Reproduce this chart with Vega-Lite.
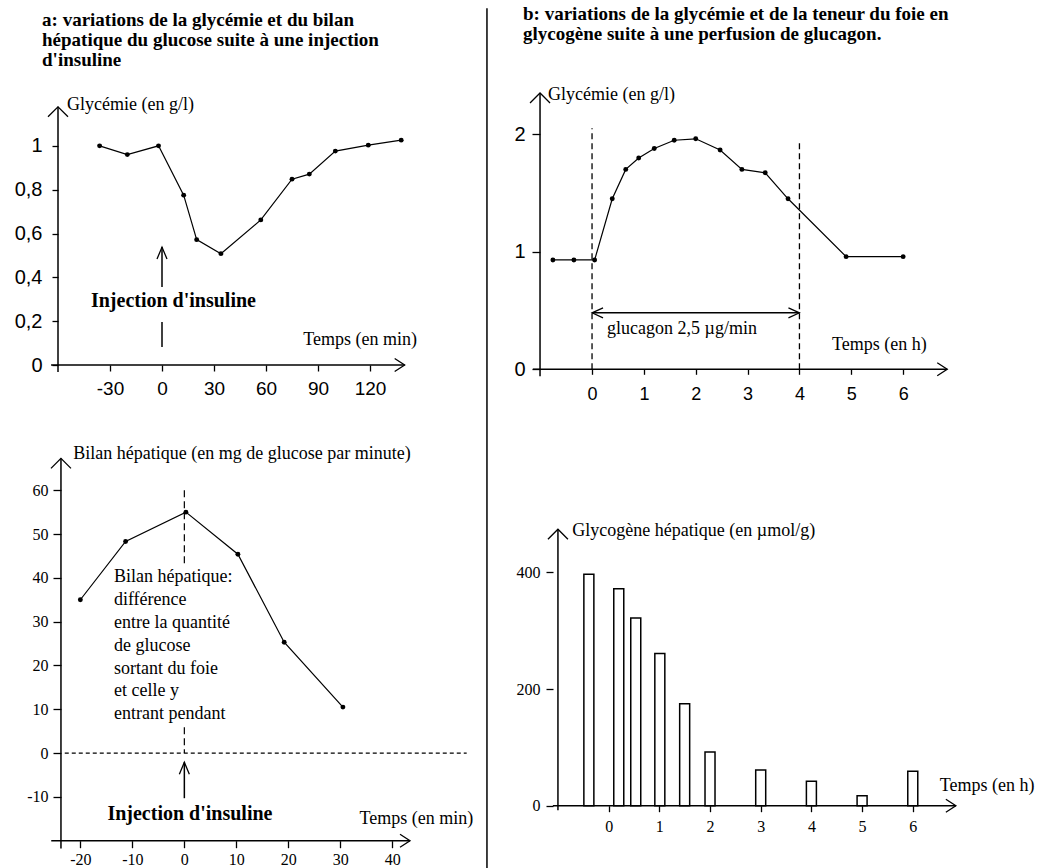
{
"$schema": "https://vega.github.io/schema/vega-lite/v6.json",
"autosize": {"type": "none"},
"padding": {"left": 58, "top": 102, "right": 991, "bottom": 766},
"background": "white",
"columns": 2,
"bounds": "flush",
"align": "each",
"spacing": {"row": 90, "column": 60},
"config": {
  "view": {"stroke": null},
  "axis": {"domain": false, "grid": false, "ticks": true, "tickColor": "black", "tickWidth": 1.3, "labelColor": "black", "labelFlush": false, "labelOverlap": false},
  "text": {"font": "Liberation Serif", "fontSize": 18, "color": "black"}
},
"concat": [
{
  "width": 364, "height": 263,
  "data": {"values": [
    {"kind":"obs","t":-36,"v":1.0},
    {"kind":"obs","t":-20,"v":0.96},
    {"kind":"obs","t":-2,"v":1.0},
    {"kind":"obs","t":12.5,"v":0.775},
    {"kind":"obs","t":20,"v":0.572},
    {"kind":"obs","t":34,"v":0.508},
    {"kind":"obs","t":57,"v":0.662},
    {"kind":"obs","t":75,"v":0.848},
    {"kind":"obs","t":85,"v":0.871},
    {"kind":"obs","t":100,"v":0.976},
    {"kind":"obs","t":119,"v":1.003},
    {"kind":"obs","t":138,"v":1.026},
    {"kind":"seg","t":-64,"v":0,"t2":140,"v2":0},
    {"kind":"seg","t":-60,"v":-0.032,"t2":-60,"v2":1.178},
    {"kind":"seg","t":0,"v":0.356,"t2":0,"v2":0.538},
    {"kind":"seg","t":0,"v":0.082,"t2":0,"v2":0.196},
    {"kind":"headR","t":140,"v":0},
    {"kind":"headU","t":-60,"v":1.178},
    {"kind":"headUs","t":0,"v":0.538},
    {"kind":"text","t":-54.8,"v":1.163,"label":"Glycémie (en g/l)"},
    {"kind":"textR","t":147.1,"v":0.091,"label":"Temps (en min)"},
    {"kind":"bold","t":-41,"v":0.266,"label":"Injection d'insuline"},
    {"kind":"title","t":-69.2,"v":1.5465,"label":"a: variations de la glycémie et du bilan\nhépatique du glucose suite à une injection\nd'insuline"}
  ]},
  "encoding": {
    "x": {"field": "t", "type": "quantitative", "scale": {"domain": [-60, 150], "nice": false, "zero": false},
          "axis": {"title": null, "values": [-30, 0, 30, 60, 90, 120], "tickSize": 6, "labelFont": "Liberation Sans", "labelFontSize": 19, "labelPadding": 8, "labelExpr": "toString(datum.value)"}},
    "y": {"field": "v", "type": "quantitative", "scale": {"domain": [0, 1.2], "nice": false, "zero": false},
          "axis": {"title": null, "values": [0, 0.2, 0.4, 0.6, 0.8, 1], "tickSize": 6, "labelFont": "Liberation Sans", "labelFontSize": 20, "labelPadding": 10, "labelExpr": "replace(format(datum.value, '.1~f'), '.', ',')"}}
  },
  "layer": [
    {"transform": [{"filter": "datum.kind == 'obs'"}], "mark": {"type": "line", "color": "black", "strokeWidth": 1.2}},
    {"transform": [{"filter": "datum.kind == 'obs'"}], "mark": {"type": "point", "filled": true, "color": "black", "size": 24, "opacity": 1}},
    {"transform": [{"filter": "datum.kind == 'seg'"}], "mark": {"type": "rule", "color": "black", "strokeWidth": 1.5}, "encoding": {"x2": {"field": "t2"}, "y2": {"field": "v2"}}},
    {"transform": [{"filter": "datum.kind == 'headR'"}], "mark": {"type": "point", "shape": "M-1,-0.65L0,0L-1,0.65", "size": 400, "filled": false, "color": "black", "strokeWidth": 1.3, "opacity": 1}},
    {"transform": [{"filter": "datum.kind == 'headU'"}], "mark": {"type": "point", "shape": "M-1,1L0,0L1,1", "size": 400, "filled": false, "color": "black", "strokeWidth": 1.3, "opacity": 1}},
    {"transform": [{"filter": "datum.kind == 'headUs'"}], "mark": {"type": "point", "shape": "M-0.5,1.2L0,0L0.5,1.2", "size": 400, "filled": false, "color": "black", "strokeWidth": 1.3, "opacity": 1}},
    {"transform": [{"filter": "datum.kind == 'text'"}], "mark": {"type": "text", "align": "left", "baseline": "alphabetic"}, "encoding": {"text": {"field": "label"}}},
    {"transform": [{"filter": "datum.kind == 'textR'"}], "mark": {"type": "text", "align": "right", "baseline": "alphabetic"}, "encoding": {"text": {"field": "label"}}},
    {"transform": [{"filter": "datum.kind == 'bold'"}], "mark": {"type": "text", "align": "left", "baseline": "alphabetic", "fontWeight": "bold", "fontSize": 20}, "encoding": {"text": {"field": "label"}}},
    {"transform": [{"filter": "datum.kind == 'title'"}], "mark": {"type": "text", "align": "left", "baseline": "alphabetic", "fontWeight": "bold", "fontSize": 19, "lineBreak": "\n", "lineHeight": 20}, "encoding": {"text": {"field": "label"}}}
  ]
},
{
  "width": 420, "height": 267.3,
  "data": {"values": [
    {"kind":"obs","t":-0.755,"v":0.93},
    {"kind":"obs","t":-0.35,"v":0.93},
    {"kind":"obs","t":0.05,"v":0.93},
    {"kind":"obs","t":0.39,"v":1.45},
    {"kind":"obs","t":0.65,"v":1.70},
    {"kind":"obs","t":0.90,"v":1.797},
    {"kind":"obs","t":1.20,"v":1.877},
    {"kind":"obs","t":1.585,"v":1.948},
    {"kind":"obs","t":2.0,"v":1.96},
    {"kind":"obs","t":2.47,"v":1.865},
    {"kind":"obs","t":2.89,"v":1.70},
    {"kind":"obs","t":3.34,"v":1.671},
    {"kind":"obs","t":3.78,"v":1.45},
    {"kind":"obs","t":4.9,"v":0.958},
    {"kind":"obs","t":6.0,"v":0.958},
    {"kind":"seg","t":-1.14,"v":0,"t2":6.85,"v2":0},
    {"kind":"seg","t":-1.003,"v":-0.06,"t2":-1.003,"v2":2.35},
    {"kind":"seg","t":0,"v":0.48,"t2":4,"v2":0.48},
    {"kind":"dash","t":0,"v":0,"t2":0,"v2":2.05},
    {"kind":"dash","t":4,"v":0,"t2":4,"v2":1.95},
    {"kind":"headR","t":6.85,"v":0},
    {"kind":"headU","t":-1.003,"v":2.35},
    {"kind":"headRs","t":4,"v":0.48},
    {"kind":"headLs","t":0,"v":0.48},
    {"kind":"text","t":-0.85,"v":2.29,"label":"Glycémie (en g/l)"},
    {"kind":"text","t":0.29,"v":0.30,"label":"glucagon 2,5 µg/min"},
    {"kind":"textR","t":6.455,"v":0.164,"label":"Temps (en h)"},
    {"kind":"title","t":-1.331,"v":2.974,"label":"b: variations de la glycémie et de la teneur du foie en\nglycogène suite à une perfusion de glucagon."}
  ]},
  "encoding": {
    "x": {"field": "t", "type": "quantitative", "scale": {"domain": [-1.1, 7.0], "nice": false, "zero": false},
          "axis": {"title": null, "values": [0, 1, 2, 3, 4, 5, 6], "tickSize": 5, "labelFont": "Liberation Sans", "labelFontSize": 18, "labelPadding": 11}},
    "y": {"field": "v", "type": "quantitative", "scale": {"domain": [0, 2.273], "nice": false, "zero": false},
          "axis": {"title": null, "values": [0, 1, 2], "tickSize": 8, "offset": -5, "labelFont": "Liberation Sans", "labelFontSize": 20, "labelPadding": 7}}
  },
  "layer": [
    {"transform": [{"filter": "datum.kind == 'obs'"}], "mark": {"type": "line", "color": "black", "strokeWidth": 1.2}},
    {"transform": [{"filter": "datum.kind == 'obs'"}], "mark": {"type": "point", "filled": true, "color": "black", "size": 24, "opacity": 1}},
    {"transform": [{"filter": "datum.kind == 'seg'"}], "mark": {"type": "rule", "color": "black", "strokeWidth": 1.5}, "encoding": {"x2": {"field": "t2"}, "y2": {"field": "v2"}}},
    {"transform": [{"filter": "datum.kind == 'dash'"}], "mark": {"type": "rule", "color": "black", "strokeWidth": 1.3, "strokeDash": [6, 4]}, "encoding": {"x2": {"field": "t2"}, "y2": {"field": "v2"}}},
    {"transform": [{"filter": "datum.kind == 'headR'"}], "mark": {"type": "point", "shape": "M-1,-0.65L0,0L-1,0.65", "size": 400, "filled": false, "color": "black", "strokeWidth": 1.3, "opacity": 1}},
    {"transform": [{"filter": "datum.kind == 'headU'"}], "mark": {"type": "point", "shape": "M-1,1L0,0L1,1", "size": 400, "filled": false, "color": "black", "strokeWidth": 1.3, "opacity": 1}},
    {"transform": [{"filter": "datum.kind == 'headRs'"}], "mark": {"type": "point", "shape": "M-1.1,-0.5L0,0L-1.1,0.5", "size": 400, "filled": false, "color": "black", "strokeWidth": 1.2, "opacity": 1}},
    {"transform": [{"filter": "datum.kind == 'headLs'"}], "mark": {"type": "point", "shape": "M1.1,-0.5L0,0L1.1,0.5", "size": 400, "filled": false, "color": "black", "strokeWidth": 1.2, "opacity": 1}},
    {"transform": [{"filter": "datum.kind == 'text'"}], "mark": {"type": "text", "align": "left", "baseline": "alphabetic"}, "encoding": {"text": {"field": "label"}}},
    {"transform": [{"filter": "datum.kind == 'textR'"}], "mark": {"type": "text", "align": "right", "baseline": "alphabetic"}, "encoding": {"text": {"field": "label"}}},
    {"transform": [{"filter": "datum.kind == 'title'"}], "mark": {"type": "text", "align": "left", "baseline": "alphabetic", "fontWeight": "bold", "fontSize": 19, "lineBreak": "\n", "lineHeight": 20}, "encoding": {"text": {"field": "label"}}}
  ]
},
{
  "width": 417, "height": 380.7,
  "data": {"values": [
    {"kind":"obs","t":-20,"v":35},
    {"kind":"obs","t":-11.3,"v":48.3},
    {"kind":"obs","t":0.3,"v":55},
    {"kind":"obs","t":10.3,"v":45.4},
    {"kind":"obs","t":19.2,"v":25.3},
    {"kind":"obs","t":30.5,"v":10.5},
    {"kind":"seg","t":-25.6,"v":-20,"t2":43.4,"v2":-20},
    {"kind":"seg","t":-23.73,"v":-21.8,"t2":-23.73,"v2":67.27},
    {"kind":"seg","t":0,"v":-10.3,"t2":0,"v2":-2.1},
    {"kind":"seg","t":58.2,"v":170,"t2":58.2,"v2":-26.3},
    {"kind":"dash","t":-23,"v":0,"t2":54.3,"v2":0},
    {"kind":"dashV","t":0,"v":60,"t2":0,"v2":43.2},
    {"kind":"dashV","t":0,"v":5.9,"t2":0,"v2":0},
    {"kind":"headR","t":43.4,"v":-20},
    {"kind":"headU","t":-23.73,"v":67.27},
    {"kind":"headUs","t":0,"v":-2.1},
    {"kind":"text","t":-21.37,"v":67.1,"label":"Bilan hépatique (en mg de glucose par minute)"},
    {"kind":"block","t":-13.54,"v":38.96,"label":"Bilan hépatique:\n\u00a0différence\nentre la quantité\nde glucose\nsortant du foie\net celle y\nentrant pendant"},
    {"kind":"bold","t":-14.8,"v":-15.36,"label":"Injection d'insuline"},
    {"kind":"textR","t":55.56,"v":-16.1,"label":"Temps (en min)"}
  ]},
  "encoding": {
    "x": {"field": "t", "type": "quantitative", "scale": {"domain": [-24.3, 55.9], "nice": false, "zero": false},
          "axis": {"title": null, "values": [-20, -10, 0, 10, 20, 30, 40], "tickSize": 7, "labelFont": "Liberation Serif", "labelFontSize": 16, "labelPadding": 4, "labelExpr": "toString(datum.value)"}},
    "y": {"field": "v", "type": "quantitative", "scale": {"domain": [-20, 66.9], "nice": false, "zero": false},
          "axis": {"title": null, "values": [-10, 0, 10, 20, 30, 40, 50, 60], "tickSize": 8, "offset": -3, "labelFont": "Liberation Serif", "labelFontSize": 16, "labelPadding": 5, "labelExpr": "toString(datum.value)"}}
  },
  "layer": [
    {"transform": [{"filter": "datum.kind == 'obs'"}], "mark": {"type": "line", "color": "black", "strokeWidth": 1.2}},
    {"transform": [{"filter": "datum.kind == 'obs'"}], "mark": {"type": "point", "filled": true, "color": "black", "size": 24, "opacity": 1}},
    {"transform": [{"filter": "datum.kind == 'seg'"}], "mark": {"type": "rule", "color": "black", "strokeWidth": 1.5}, "encoding": {"x2": {"field": "t2"}, "y2": {"field": "v2"}}},
    {"transform": [{"filter": "datum.kind == 'dash'"}], "mark": {"type": "rule", "color": "black", "strokeWidth": 1.2, "strokeDash": [4, 3]}, "encoding": {"x2": {"field": "t2"}, "y2": {"field": "v2"}}},
    {"transform": [{"filter": "datum.kind == 'dashV'"}], "mark": {"type": "rule", "color": "black", "strokeWidth": 1.2, "strokeDash": [7, 4]}, "encoding": {"x2": {"field": "t2"}, "y2": {"field": "v2"}}},
    {"transform": [{"filter": "datum.kind == 'headR'"}], "mark": {"type": "point", "shape": "M-1,-0.65L0,0L-1,0.65", "size": 400, "filled": false, "color": "black", "strokeWidth": 1.3, "opacity": 1}},
    {"transform": [{"filter": "datum.kind == 'headU'"}], "mark": {"type": "point", "shape": "M-1,1L0,0L1,1", "size": 400, "filled": false, "color": "black", "strokeWidth": 1.3, "opacity": 1}},
    {"transform": [{"filter": "datum.kind == 'headUs'"}], "mark": {"type": "point", "shape": "M-0.5,1.2L0,0L0.5,1.2", "size": 400, "filled": false, "color": "black", "strokeWidth": 1.3, "opacity": 1}},
    {"transform": [{"filter": "datum.kind == 'text'"}], "mark": {"type": "text", "align": "left", "baseline": "alphabetic"}, "encoding": {"text": {"field": "label"}}},
    {"transform": [{"filter": "datum.kind == 'block'"}], "mark": {"type": "text", "align": "left", "baseline": "alphabetic", "lineBreak": "\n", "lineHeight": 22.8}, "encoding": {"text": {"field": "label"}}},
    {"transform": [{"filter": "datum.kind == 'textR'"}], "mark": {"type": "text", "align": "right", "baseline": "alphabetic"}, "encoding": {"text": {"field": "label"}}},
    {"transform": [{"filter": "datum.kind == 'bold'"}], "mark": {"type": "text", "align": "left", "baseline": "alphabetic", "fontWeight": "bold", "fontSize": 20}, "encoding": {"text": {"field": "label"}}}
  ]
},
{
  "width": 509.5, "height": 345.7,
  "data": {"values": [
    {"kind":"bar","t":-0.39,"v":397},
    {"kind":"bar","t":0.2,"v":372},
    {"kind":"bar","t":0.535,"v":322},
    {"kind":"bar","t":1.01,"v":261},
    {"kind":"bar","t":1.5,"v":175},
    {"kind":"bar","t":2.0,"v":92},
    {"kind":"bar","t":3.0,"v":61},
    {"kind":"bar","t":4.0,"v":42},
    {"kind":"bar","t":5.0,"v":17},
    {"kind":"bar","t":6.0,"v":59},
    {"kind":"seg","t":-1.1,"v":0,"t2":6.85,"v2":0},
    {"kind":"seg","t":-1.0,"v":-8,"t2":-1.0,"v2":474},
    {"kind":"headR","t":6.85,"v":0},
    {"kind":"headU","t":-1.0,"v":474},
    {"kind":"text","t":-0.716,"v":463,"label":"Glycogène hépatique (en µmol/g)"},
    {"kind":"textR","t":8.4,"v":25.7,"label":"Temps (en h)"}
  ]},
  "encoding": {
    "x": {"field": "t", "type": "quantitative", "scale": {"domain": [-1.354, 8.5], "nice": false, "zero": false},
          "axis": {"title": null, "values": [0, 1, 2, 3, 4, 5, 6], "tickSize": 6, "labelFont": "Liberation Serif", "labelFontSize": 16, "labelPadding": 7}},
    "y": {"field": "v", "type": "quantitative", "scale": {"domain": [0, 592.7], "nice": false, "zero": false},
          "axis": {"title": null, "values": [0, 200, 400], "tickSize": 7, "offset": -18, "labelFont": "Liberation Serif", "labelFontSize": 16, "labelPadding": 6}}
  },
  "layer": [
    {"transform": [{"filter": "datum.kind == 'bar'"}], "mark": {"type": "bar", "width": 10, "fill": "white", "stroke": "black", "strokeWidth": 1.5}},
    {"transform": [{"filter": "datum.kind == 'seg'"}], "mark": {"type": "rule", "color": "black", "strokeWidth": 1.5}, "encoding": {"x2": {"field": "t2"}, "y2": {"field": "v2"}}},
    {"transform": [{"filter": "datum.kind == 'headR'"}], "mark": {"type": "point", "shape": "M-1,-0.65L0,0L-1,0.65", "size": 400, "filled": false, "color": "black", "strokeWidth": 1.3, "opacity": 1}},
    {"transform": [{"filter": "datum.kind == 'headU'"}], "mark": {"type": "point", "shape": "M-1,1L0,0L1,1", "size": 400, "filled": false, "color": "black", "strokeWidth": 1.3, "opacity": 1}},
    {"transform": [{"filter": "datum.kind == 'text'"}], "mark": {"type": "text", "align": "left", "baseline": "alphabetic"}, "encoding": {"text": {"field": "label"}}},
    {"transform": [{"filter": "datum.kind == 'textR'"}], "mark": {"type": "text", "align": "right", "baseline": "alphabetic"}, "encoding": {"text": {"field": "label"}}}
  ]
}
]
}
